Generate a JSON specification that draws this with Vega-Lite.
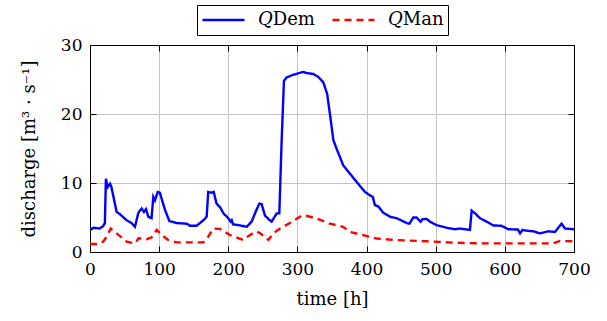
{
  "$schema": "https://vega.github.io/schema/vega-lite/v6.json",
  "width": 484,
  "height": 207,
  "autosize": {"type": "none"},
  "padding": {"left": 90, "top": 45, "right": 33, "bottom": 69},
  "background": "white",
  "config": {
    "font": "DejaVu Serif",
    "view": {"stroke": "black", "strokeWidth": 1},
    "axis": {
      "labelFont": "DejaVu Serif",
      "titleFont": "DejaVu Serif",
      "labelFontSize": 17,
      "titleFontSize": 18,
      "titleFontWeight": "normal",
      "labelColor": "black",
      "titleColor": "black",
      "domainColor": "black",
      "tickColor": "black",
      "gridColor": "#c4c4c4",
      "gridWidth": 1,
      "labelFlush": false
    }
  },
  "datasets": {
    "series": [
      {"t": 0, "q": 3.2, "s": "Dem"}, {"t": 5, "q": 3.5, "s": "Dem"}, {"t": 14, "q": 3.4, "s": "Dem"}, {"t": 19, "q": 3.75, "s": "Dem"},
      {"t": 21.5, "q": 4.2, "s": "Dem"}, {"t": 23, "q": 10.6, "s": "Dem"}, {"t": 25.5, "q": 9.4, "s": "Dem"}, {"t": 29, "q": 9.9, "s": "Dem"},
      {"t": 31, "q": 9.4, "s": "Dem"}, {"t": 38.5, "q": 5.8, "s": "Dem"}, {"t": 43, "q": 5.5, "s": "Dem"}, {"t": 53, "q": 4.6, "s": "Dem"},
      {"t": 60, "q": 4.2, "s": "Dem"}, {"t": 65, "q": 3.65, "s": "Dem"}, {"t": 70, "q": 5.7, "s": "Dem"}, {"t": 74.7, "q": 6.3, "s": "Dem"},
      {"t": 78, "q": 5.8, "s": "Dem"}, {"t": 81, "q": 6.2, "s": "Dem"}, {"t": 84.4, "q": 5.1, "s": "Dem"}, {"t": 89, "q": 4.9, "s": "Dem"},
      {"t": 91.6, "q": 8.0, "s": "Dem"}, {"t": 94, "q": 7.5, "s": "Dem"}, {"t": 98, "q": 8.7, "s": "Dem"}, {"t": 101, "q": 8.6, "s": "Dem"},
      {"t": 108.5, "q": 6.1, "s": "Dem"}, {"t": 114.7, "q": 4.5, "s": "Dem"}, {"t": 125, "q": 4.2, "s": "Dem"}, {"t": 140, "q": 4.1, "s": "Dem"},
      {"t": 144.6, "q": 3.8, "s": "Dem"}, {"t": 154, "q": 3.8, "s": "Dem"}, {"t": 164, "q": 4.6, "s": "Dem"}, {"t": 168.7, "q": 5.1, "s": "Dem"},
      {"t": 171, "q": 8.7, "s": "Dem"}, {"t": 176, "q": 8.6, "s": "Dem"}, {"t": 179, "q": 8.7, "s": "Dem"}, {"t": 183, "q": 7.0, "s": "Dem"},
      {"t": 188, "q": 6.5, "s": "Dem"}, {"t": 193, "q": 5.6, "s": "Dem"}, {"t": 200, "q": 4.9, "s": "Dem"}, {"t": 203.4, "q": 4.4, "s": "Dem"},
      {"t": 205, "q": 4.6, "s": "Dem"}, {"t": 207, "q": 4.0, "s": "Dem"}, {"t": 214.5, "q": 3.9, "s": "Dem"}, {"t": 226.6, "q": 3.65, "s": "Dem"},
      {"t": 233.8, "q": 4.4, "s": "Dem"}, {"t": 238.6, "q": 5.6, "s": "Dem"}, {"t": 244.8, "q": 7.0, "s": "Dem"}, {"t": 248.2, "q": 6.95, "s": "Dem"},
      {"t": 253, "q": 5.3, "s": "Dem"}, {"t": 260, "q": 4.6, "s": "Dem"}, {"t": 262.7, "q": 4.4, "s": "Dem"}, {"t": 270, "q": 5.6, "s": "Dem"},
      {"t": 273.8, "q": 5.6, "s": "Dem"}, {"t": 277.2, "q": 16.2, "s": "Dem"}, {"t": 280.5, "q": 24.8, "s": "Dem"}, {"t": 284.4, "q": 25.3, "s": "Dem"},
      {"t": 291.7, "q": 25.6, "s": "Dem"}, {"t": 301.3, "q": 25.9, "s": "Dem"}, {"t": 308.5, "q": 26.1, "s": "Dem"}, {"t": 312.4, "q": 25.95, "s": "Dem"},
      {"t": 323, "q": 25.8, "s": "Dem"}, {"t": 330, "q": 25.4, "s": "Dem"}, {"t": 337.4, "q": 24.6, "s": "Dem"}, {"t": 343, "q": 22.9, "s": "Dem"},
      {"t": 347, "q": 20.0, "s": "Dem"}, {"t": 352, "q": 16.2, "s": "Dem"}, {"t": 357.7, "q": 14.7, "s": "Dem"}, {"t": 361.5, "q": 13.75, "s": "Dem"},
      {"t": 366.3, "q": 12.55, "s": "Dem"}, {"t": 376, "q": 11.35, "s": "Dem"}, {"t": 385.7, "q": 10.15, "s": "Dem"}, {"t": 397.7, "q": 8.7, "s": "Dem"},
      {"t": 405, "q": 8.2, "s": "Dem"}, {"t": 409, "q": 8.0, "s": "Dem"}, {"t": 412, "q": 6.8, "s": "Dem"}, {"t": 417, "q": 6.6, "s": "Dem"},
      {"t": 424, "q": 5.7, "s": "Dem"}, {"t": 434, "q": 5.1, "s": "Dem"}, {"t": 443.5, "q": 4.9, "s": "Dem"}, {"t": 458, "q": 4.2, "s": "Dem"},
      {"t": 462, "q": 4.1, "s": "Dem"}, {"t": 467.5, "q": 5.0, "s": "Dem"}, {"t": 472.4, "q": 5.0, "s": "Dem"}, {"t": 478, "q": 4.4, "s": "Dem"},
      {"t": 481, "q": 4.75, "s": "Dem"}, {"t": 487, "q": 4.8, "s": "Dem"}, {"t": 491.6, "q": 4.4, "s": "Dem"}, {"t": 501, "q": 3.9, "s": "Dem"},
      {"t": 516, "q": 3.5, "s": "Dem"}, {"t": 528, "q": 3.3, "s": "Dem"}, {"t": 535, "q": 3.4, "s": "Dem"}, {"t": 549.5, "q": 3.2, "s": "Dem"},
      {"t": 552, "q": 6.0, "s": "Dem"}, {"t": 557, "q": 5.6, "s": "Dem"}, {"t": 564, "q": 4.9, "s": "Dem"}, {"t": 573.6, "q": 4.4, "s": "Dem"},
      {"t": 583, "q": 3.85, "s": "Dem"}, {"t": 595, "q": 3.8, "s": "Dem"}, {"t": 605, "q": 3.3, "s": "Dem"}, {"t": 619, "q": 3.25, "s": "Dem"},
      {"t": 622, "q": 2.7, "s": "Dem"}, {"t": 625.7, "q": 3.2, "s": "Dem"}, {"t": 630.6, "q": 3.1, "s": "Dem"}, {"t": 641, "q": 3.0, "s": "Dem"},
      {"t": 650.7, "q": 2.7, "s": "Dem"}, {"t": 662.7, "q": 3.0, "s": "Dem"}, {"t": 672.4, "q": 2.9, "s": "Dem"}, {"t": 682, "q": 4.1, "s": "Dem"},
      {"t": 687, "q": 3.4, "s": "Dem"}, {"t": 700, "q": 3.3, "s": "Dem"},
      {"t": 0, "q": 1.15, "s": "Man"}, {"t": 10, "q": 1.15, "s": "Man"}, {"t": 19, "q": 1.5, "s": "Man"}, {"t": 24, "q": 2.2, "s": "Man"},
      {"t": 30, "q": 3.4, "s": "Man"}, {"t": 38.6, "q": 2.7, "s": "Man"}, {"t": 53, "q": 1.5, "s": "Man"}, {"t": 62, "q": 1.3, "s": "Man"},
      {"t": 66, "q": 1.3, "s": "Man"}, {"t": 70, "q": 2.0, "s": "Man"}, {"t": 82, "q": 1.85, "s": "Man"}, {"t": 89, "q": 2.1, "s": "Man"},
      {"t": 96.5, "q": 3.2, "s": "Man"}, {"t": 103.7, "q": 2.45, "s": "Man"}, {"t": 113, "q": 1.75, "s": "Man"}, {"t": 125, "q": 1.4, "s": "Man"},
      {"t": 145, "q": 1.4, "s": "Man"}, {"t": 164, "q": 1.4, "s": "Man"}, {"t": 171, "q": 2.2, "s": "Man"}, {"t": 178, "q": 3.4, "s": "Man"},
      {"t": 188, "q": 3.35, "s": "Man"}, {"t": 202.5, "q": 2.45, "s": "Man"}, {"t": 221.7, "q": 1.75, "s": "Man"}, {"t": 229, "q": 2.3, "s": "Man"},
      {"t": 240, "q": 3.0, "s": "Man"}, {"t": 245, "q": 2.8, "s": "Man"}, {"t": 258, "q": 1.75, "s": "Man"}, {"t": 265, "q": 2.7, "s": "Man"},
      {"t": 275, "q": 3.4, "s": "Man"}, {"t": 289, "q": 4.2, "s": "Man"}, {"t": 306, "q": 5.25, "s": "Man"}, {"t": 313, "q": 5.25, "s": "Man"},
      {"t": 328, "q": 4.85, "s": "Man"}, {"t": 347, "q": 4.1, "s": "Man"}, {"t": 366, "q": 3.65, "s": "Man"}, {"t": 376, "q": 2.9, "s": "Man"},
      {"t": 395, "q": 2.45, "s": "Man"}, {"t": 414.5, "q": 1.95, "s": "Man"}, {"t": 438.6, "q": 1.75, "s": "Man"}, {"t": 462.7, "q": 1.65, "s": "Man"},
      {"t": 487, "q": 1.55, "s": "Man"}, {"t": 525, "q": 1.35, "s": "Man"}, {"t": 564, "q": 1.25, "s": "Man"}, {"t": 598, "q": 1.25, "s": "Man"},
      {"t": 670, "q": 1.25, "s": "Man"}, {"t": 680, "q": 1.6, "s": "Man"}, {"t": 700, "q": 1.55, "s": "Man"}
    ]
  },
  "data": {"name": "series"},
  "layer": [
    {
      "mark": {"type": "line", "strokeWidth": 2.4, "clip": true},
      "encoding": {
        "x": {"field": "t", "type": "quantitative", "scale": {"domain": [0, 700], "nice": false},
              "axis": {"orient": "bottom", "values": [0, 100, 200, 300, 400, 500, 600, 700], "grid": true, "tickSize": -6, "labelPadding": 15, "labelFlush": false,
                       "title": "time [h]", "titlePadding": 13}},
        "y": {"field": "q", "type": "quantitative", "scale": {"domain": [0, 30], "nice": false},
              "axis": {"orient": "left", "values": [0, 10, 20, 30], "grid": true, "tickSize": -6, "labelPadding": 14, "labelFlush": false,
                       "title": "discharge [m³ · s⁻¹]", "titlePadding": 22}},
        "color": {"field": "s", "type": "nominal", "scale": {"domain": ["Dem", "Man"], "range": ["#0000ff", "#ff0000"]},
                  "legend": {"orient": "none", "legendX": 107, "legendY": -40, "direction": "horizontal", "title": null,
                             "strokeColor": "black", "padding": 4, "clipHeight": 22, "symbolType": "stroke", "symbolSize": 1764, "symbolStrokeWidth": 2.4,
                             "labelFont": "DejaVu Serif", "labelFontSize": 18, "labelColor": "black", "columnPadding": 16, "labelOffset": 12,
                             "labelExpr": "datum.label == 'Dem' ? '𝑄Dem' : '𝑄Man'"}},
        "strokeDash": {"field": "s", "type": "nominal", "scale": {"domain": ["Dem", "Man"], "range": [[1, 0], [7, 5]]}, "legend": null}
      }
    },
    {
      "mark": {"type": "line", "opacity": 0},
      "encoding": {
        "x": {"field": "t", "type": "quantitative", "scale": {"domain": [0, 700], "nice": false},
              "axis": {"orient": "top", "values": [0, 100, 200, 300, 400, 500, 600, 700], "labels": false, "title": null, "grid": false, "tickSize": -6}},
        "y": {"field": "q", "type": "quantitative", "scale": {"domain": [0, 30], "nice": false},
              "axis": {"orient": "right", "values": [0, 10, 20, 30], "labels": false, "title": null, "grid": false, "tickSize": -6}},
        "detail": {"field": "s", "type": "nominal"}
      }
    }
  ],
  "resolve": {"axis": {"x": "independent", "y": "independent"}}
}
